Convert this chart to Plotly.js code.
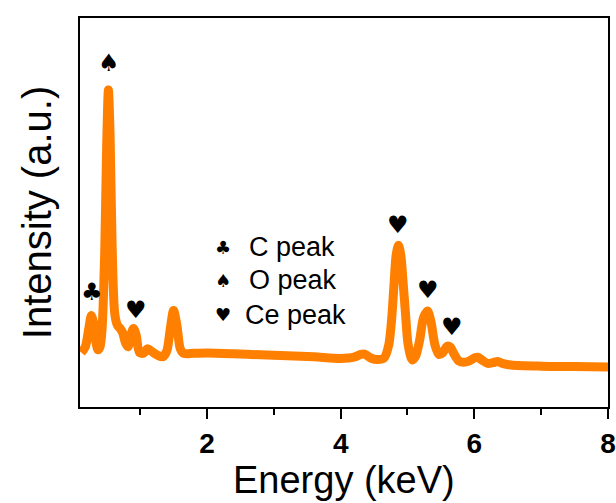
<!DOCTYPE html>
<html>
<head>
<meta charset="utf-8">
<script src="https://cdn.plot.ly/plotly-3.0.1.min.js"></script>
<style>html,body{margin:0;padding:0;background:#fff;}#chart{width:616px;height:503px;}</style>
</head>
<body>
<div id="chart"></div>
<script>
// EDS spectrum (Energy in keV, intensity in arbitrary units)
var energy = [0.12,0.18,0.23,0.27,0.30,0.34,0.37,0.40,0.43,0.47,0.50,0.525,0.55,0.58,0.62,0.66,0.70,0.74,0.78,0.82,0.86,0.90,0.94,0.99,1.05,1.11,1.18,1.26,1.34,1.40,1.45,1.50,1.55,1.60,1.65,1.80,2.00,2.40,2.80,3.20,3.60,4.00,4.20,4.30,4.36,4.45,4.55,4.65,4.72,4.76,4.80,4.83,4.865,4.90,4.93,4.97,5.01,5.07,5.12,5.18,5.24,5.30,5.35,5.41,5.47,5.53,5.59,5.64,5.70,5.77,5.84,5.92,6.00,6.05,6.12,6.20,6.28,6.35,6.42,6.55,7.00,7.50,8.00];
var intensity = [14.0,15.5,20.0,23.5,22.0,16.5,14.7,15.5,20,40,68,81.5,70,42,24,21,20.2,19.0,16.5,15.5,18.5,20.2,18.5,14.0,13.8,15.0,14.2,13.3,12.9,14.5,20,24.8,21,15,13.8,13.8,13.9,13.7,13.4,13.2,12.9,12.5,12.8,13.5,13.6,12.6,12.2,12.6,16,22,32,39,41.6,39,33,24,16,12.1,13,17,23,24.7,22,16,13.5,14,15.6,15.4,13.5,11.8,11.5,11.8,12.6,12.8,12.0,11.2,11.4,11.7,11.2,10.8,10.5,10.4,10.3];

// peak markers
var markSymbols = ['\u2663','\u2660','\u2665','\u2665','\u2665','\u2665'];
var markEnergy  = [0.275, 0.53, 0.935, 4.865, 5.31, 5.66];
var markHeight  = [29.5, 88.4, 25.0, 46.8, 30.0, 20.6];

// key
var keySymbols = ['\u2663','\u2660','\u2665'];
var keyLabels  = ['C peak','O peak','Ce peak'];
var keyY       = [41.1, 32.6, 23.7];

var xTicks = [2,4,6,8];
var xTickText = ['2','4','6','8'];

var FONT = 'Arial, "Liberation Sans", sans-serif';
var annotations = [];
for (var i = 0; i < markSymbols.length; i++) {
  annotations.push({x: markEnergy[i], y: markHeight[i], xref:'x', yref:'y', text: markSymbols[i], showarrow:false,
    font:{family:'"DejaVu Sans", sans-serif', size:24, color:'#000'}});
}
for (var j = 0; j < keyLabels.length; j++) {
  annotations.push({x: 2.24, y: keyY[j], xref:'x', yref:'y', text: keySymbols[j], showarrow:false,
    font:{family:'"DejaVu Sans", sans-serif', size:18, color:'#000'}});
  annotations.push({x: (j===2 ? 2.54 : 2.6), y: keyY[j], xref:'x', yref:'y', text: keyLabels[j], showarrow:false, xanchor:'left',
    font:{family:FONT, size:27, color:'#000'}});
}
annotations.push({x:0.5, y:-0.187, xref:'paper', yref:'paper', text:'Energy (keV)', showarrow:false,
  xanchor:'center', yanchor:'middle', font:{family:FONT, size:38, color:'#000'}});

var trace = {x: energy, y: intensity, type:'scatter', mode:'lines',
  line:{color:'#FF8000', width:9, shape:'spline', smoothing:0.8}, hoverinfo:'skip'};

var layout = {
  width:616, height:503,
  margin:{l:80, r:8, t:18, b:96},
  paper_bgcolor:'#fff', plot_bgcolor:'#fff',
  showlegend:false,
  font:{family:FONT, color:'#000'},
  xaxis:{range:[0.1,8], showgrid:false, zeroline:false, showline:true, mirror:true, linecolor:'#000', linewidth:2,
    ticks:'outside', ticklen:10, tickwidth:2, tickcolor:'#000', tickvals:xTicks, ticktext:xTickText,
    minor:{tickvals:[1,3,5,7], ticks:'outside', ticklen:6, tickwidth:2, tickcolor:'#000'},
    tickfont:{family:FONT, size:28, weight:700, color:'#000'}},
  yaxis:{range:[0,100], showgrid:false, zeroline:false, showline:true, mirror:true, linecolor:'#000', linewidth:2,
    ticks:'', showticklabels:false,
    title:{text:'Intensity (a.u.)', font:{family:FONT, size:40, color:'#000'}, standoff:14}},
  annotations: annotations
};
Plotly.newPlot('chart', [trace], layout, {staticPlot:true, displayModeBar:false});
</script>
</body>
</html>
